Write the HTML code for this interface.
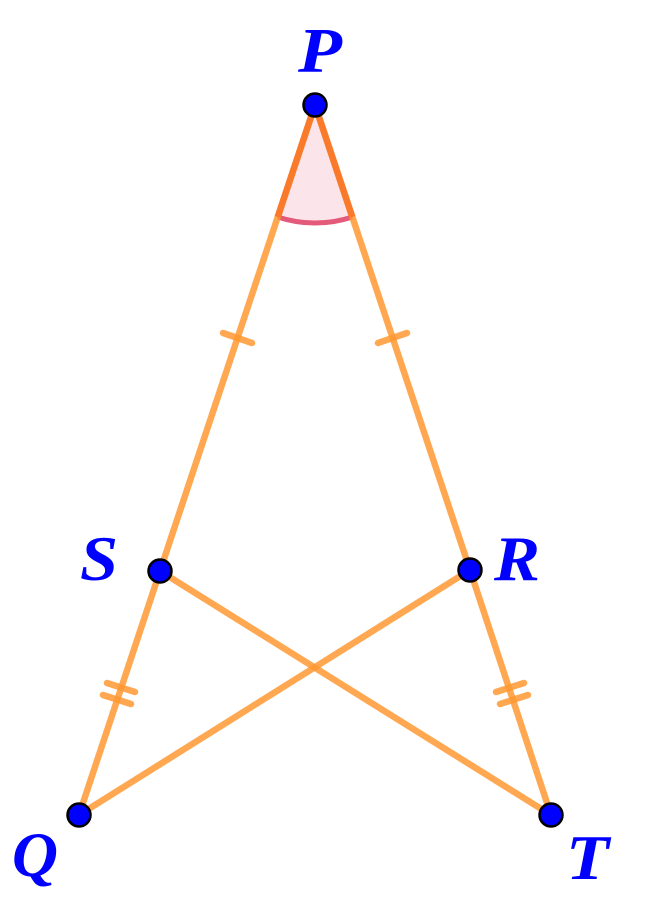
<!DOCTYPE html>
<html><head><meta charset="utf-8"><style>
html,body{margin:0;padding:0;background:#fff;}
svg{display:block;}
text{font-family:"Liberation Serif",serif;font-weight:bold;font-style:italic;font-size:64px;fill:#0000ff;}
</style></head><body>
<svg width="668" height="902" viewBox="0 0 668 902" xmlns="http://www.w3.org/2000/svg">
<path d="M315,105 L277.7,217 A118,118 0 0 0 352.3,217 Z" fill="#fbe4ea"/>
<path d="M277.7,217 A118,118 0 0 0 352.3,217" fill="none" stroke="#e35a7a" stroke-width="5"/>
<g stroke="#ff9933" stroke-opacity="0.85" stroke-width="6.5" stroke-linecap="round" fill="none">
<line x1="315" y1="105" x2="160" y2="571"/>
<line x1="315" y1="105" x2="470" y2="570"/>
<line x1="160" y1="571" x2="79" y2="815"/>
<line x1="470" y1="570" x2="551" y2="815"/>
<line x1="160" y1="571" x2="551" y2="815"/>
<line x1="470" y1="570" x2="79" y2="815"/>
<line x1="223" y1="333" x2="252" y2="343"/>
<line x1="378" y1="343" x2="407" y2="333"/>
<line x1="107" y1="683" x2="135" y2="692"/>
<line x1="103" y1="695" x2="131" y2="704"/>
<line x1="496" y1="692" x2="524" y2="683"/>
<line x1="500" y1="704" x2="528" y2="695"/>
</g>
<g stroke="#f97a2a" stroke-width="6.5" fill="none">
<line x1="315" y1="105" x2="277.7" y2="217"/>
<line x1="315" y1="105" x2="352.3" y2="217"/>
</g>
<g fill="#0000ff" stroke="#000" stroke-width="2.5">
<circle cx="315" cy="105" r="11.5"/>
<circle cx="160" cy="571" r="11.5"/>
<circle cx="470" cy="570" r="11.5"/>
<circle cx="79" cy="815" r="11.5"/>
<circle cx="551" cy="815" r="11.5"/>
</g>
<text x="298" y="72" textLength="44" lengthAdjust="spacingAndGlyphs">P</text>
<text x="80" y="580" textLength="38" lengthAdjust="spacingAndGlyphs">S</text>
<text x="494" y="580" textLength="46" lengthAdjust="spacingAndGlyphs">R</text>
<text x="12" y="876" textLength="46" lengthAdjust="spacingAndGlyphs">Q</text>
<text x="566" y="879" textLength="43" lengthAdjust="spacingAndGlyphs">T</text>
</svg>
</body></html>
